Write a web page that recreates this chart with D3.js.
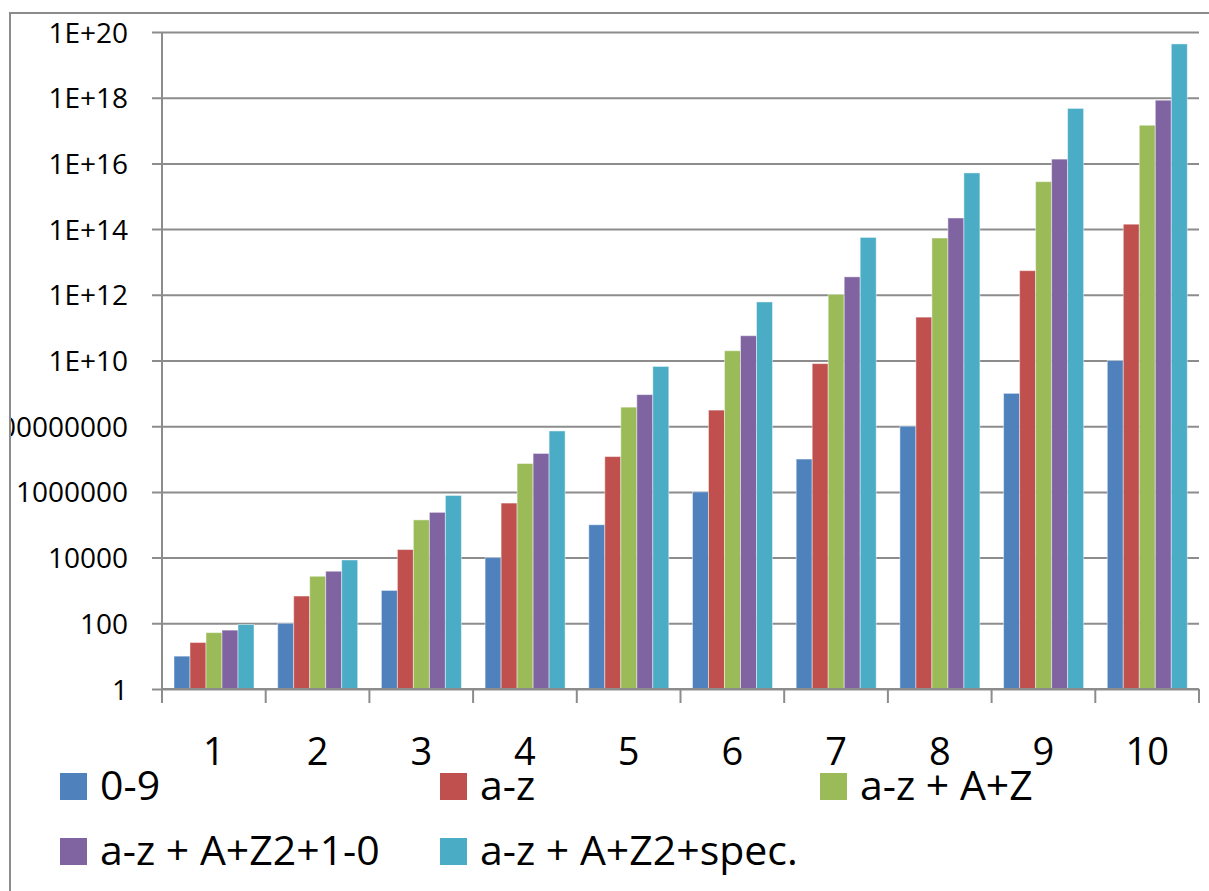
<!DOCTYPE html>
<html lang="en">
<head>
    <meta charset="UTF-8" />
    <title>Password combinations</title>
    <script src="https://d3js.org/d3.v7.min.js"></script>
    <style>
        body { margin: 0; background: #fff; }
        text { font-family: "Open Sans", "Liberation Sans", sans-serif; fill: #000; }
    </style>
</head>
<body>
    <div class="canvas"></div>

    <script>
        /* data */
        const lengths = ["1", "2", "3", "4", "5", "6", "7", "8", "9", "10"];
        const seriesNames = ["0-9", "a-z", "a-z + A+Z", "a-z + A+Z2+1-0", "a-z + A+Z2+spec."];
        const digits = [10, 100, 1e3, 1e4, 1e5, 1e6, 1e7, 1e8, 1e9, 1e10];
        const lower = [26, 676, 17576, 456976, 1.19e7, 3.09e8, 8.03e9, 2.09e11, 5.43e12, 1.41e14];
        const letters = [52, 2704, 140608, 7.31e6, 3.80e8, 1.98e10, 1.03e12, 5.35e13, 2.78e15, 1.45e17];
        const alnum = [62, 3844, 238328, 1.48e7, 9.16e8, 5.68e10, 3.52e12, 2.18e14, 1.35e16, 8.39e17];
        const special = [92, 8464, 778688, 7.16e7, 6.59e9, 6.06e11, 5.58e13, 5.13e15, 4.72e17, 4.34e19];
        const yTicks = [1, 1e2, 1e4, 1e6, 1e8, 1e10, 1e12, 1e14, 1e16, 1e18, 1e20];

        const seriesValues = [digits, lower, letters, alnum, special];
        const colors = ["#4F81BD", "#C0504D", "#9BBB59", "#8064A2", "#4BACC6"];

        /* size */
        const 전체넓이 = 1209, 전체높이 = 891;
        const [상단, 좌측, 우측끝, 하단] = [32, 162, 1199, 689];

        const svg = d3.select(".canvas").append("svg")
            .attr("width", 전체넓이)
            .attr("height", 전체높이);

        // chart frame (runs off the right / bottom edge)
        svg.append("rect")
            .attr("x", 10).attr("y", 13)
            .attr("width", 1300).attr("height", 1000)
            .attr("fill", "none")
            .attr("stroke", "#8c8c8c")
            .attr("stroke-width", 2);

        svg.append("clipPath").attr("id", "frame")
            .append("rect").attr("x", 11).attr("y", 14).attr("width", 1300).attr("height", 1000);

        /* scales */
        const x = d3.scaleBand().domain(lengths).range([좌측, 우측끝]);
        const xs = d3.scaleBand().domain(seriesNames).range([12, 92]);
        const y = d3.scaleLog().domain([1, 1e20]).range([하단, 상단]);

        const fmt = (d) => {
            const e = Math.round(Math.log10(d));
            return e >= 10 ? "1E+" + e : d3.format("d")(d);
        };

        // horizontal grid + left ticks (labels clipped by the frame)
        const yAxis = svg.append("g")
            .attr("clip-path", "url(#frame)")
            .append("g")
            .attr("transform", `translate(${좌측},0)`)
            .call(d3.axisLeft(y).tickValues(yTicks).tickFormat(fmt).tickSize(10).tickPadding(24));
        yAxis.select(".domain").remove();
        yAxis.selectAll(".tick line")
            .attr("x2", 우측끝 - 좌측)
            .attr("x1", -10)
            .attr("stroke", "#8c8c8c")
            .attr("stroke-width", 2);
        yAxis.selectAll(".tick text")
            .attr("font-size", 28)
            .attr("fill", "#000")
            .attr("dy", "0.36em")
            .style("font-family", "'Open Sans', sans-serif");

        // vertical axis line
        svg.append("line")
            .attr("x1", 좌측).attr("x2", 좌측)
            .attr("y1", 상단).attr("y2", 하단 + 14)
            .attr("stroke", "#8c8c8c").attr("stroke-width", 2);

        /* bars */
        const groups = svg.append("g").selectAll("g")
            .data(seriesNames)
            .join("g")
            .attr("fill", (d, i) => colors[i]);

        groups.selectAll("rect")
            .data((name, i) => seriesValues[i].map((v, j) => ({ name, len: lengths[j], v })))
            .join("rect")
            .attr("x", (d) => x(d.len) + xs(d.name))
            .attr("width", xs.bandwidth())
            .attr("y", (d) => y(d.v))
            .attr("height", (d) => 하단 - y(d.v))
            .attr("stroke", "#ffffff")
            .attr("stroke-opacity", 0.45)
            .attr("stroke-width", 1);

        /* bottom axis */
        svg.append("line")
            .attr("x1", 좌측).attr("x2", 우측끝)
            .attr("y1", 하단).attr("y2", 하단)
            .attr("stroke", "#8c8c8c").attr("stroke-width", 2);

        svg.append("g").selectAll("line")
            .data(lengths.concat(["end"]))
            .join("line")
            .attr("x1", (d) => d === "end" ? 우측끝 : x(d))
            .attr("x2", (d) => d === "end" ? 우측끝 : x(d))
            .attr("y1", 하단).attr("y2", 하단 + 14)
            .attr("stroke", "#8c8c8c").attr("stroke-width", 2);

        svg.append("g").selectAll("text")
            .data(lengths)
            .join("text")
            .attr("x", (d) => x(d) + x.bandwidth() / 2)
            .attr("y", 765)
            .attr("text-anchor", "middle")
            .attr("font-size", 38)
            .text((d) => d);

        /* legend */
        const legend = svg.append("g").selectAll("g")
            .data(seriesNames)
            .join("g")
            .attr("transform", (d, i) => `translate(${60 + (i % 3) * 380}, ${773 + Math.floor(i / 3) * 65})`);

        legend.append("rect")
            .attr("width", 27).attr("height", 27)
            .attr("fill", (d, i) => colors[i]);

        legend.append("text")
            .attr("x", 40).attr("y", 27)
            .attr("font-size", 41)
            .text((d) => d);
    </script>
</body>
</html>
